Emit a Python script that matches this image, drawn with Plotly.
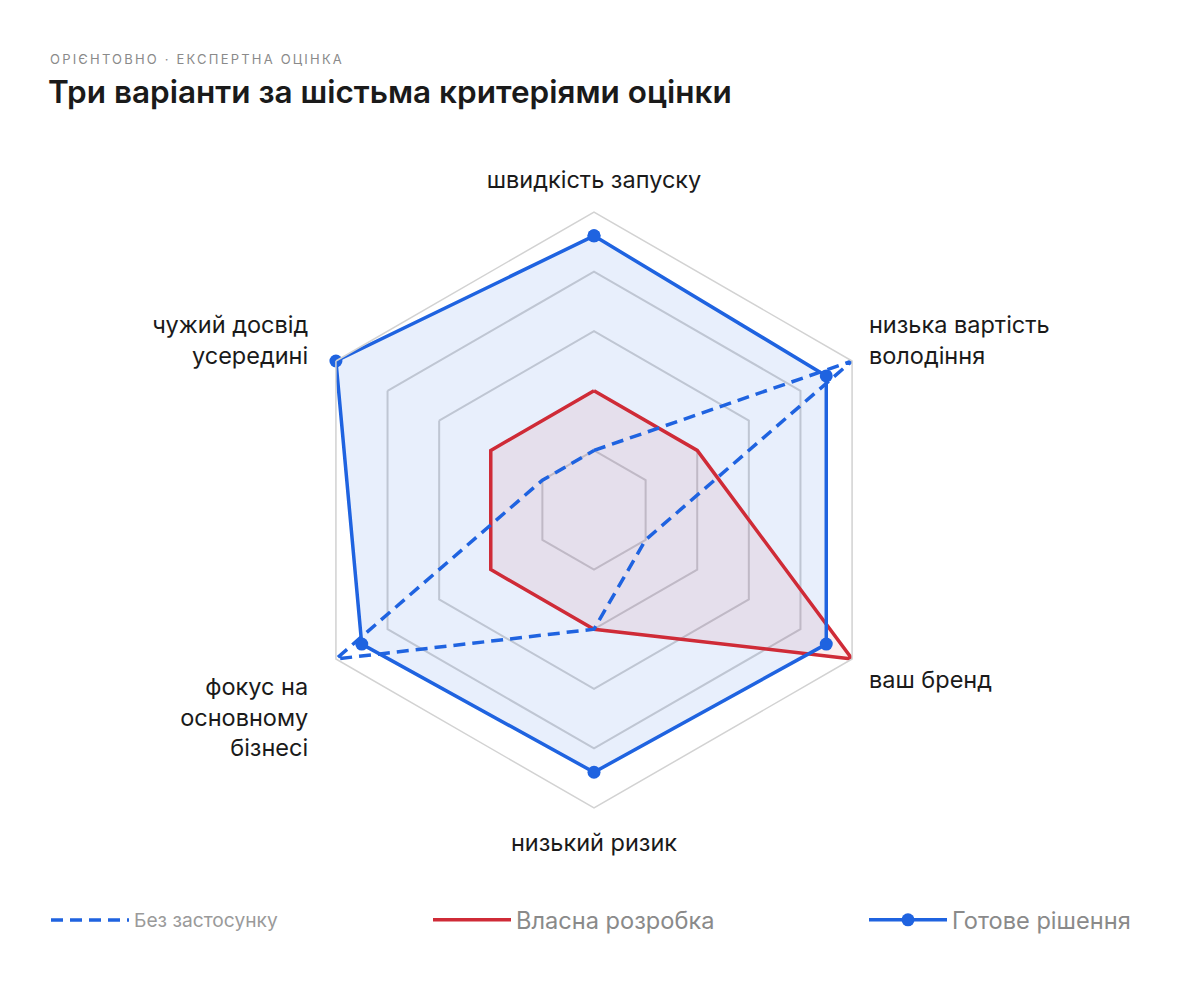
import plotly.graph_objects as go

categories = ["швидкість запуску", "низька вартість володіння", "ваш бренд",
              "низький ризик", "фокус на основному бізнесі", "чужий досвід усередині"]
NB = "\u00a0\u2009"
tick_labels = ["швидкість запуску", "низька вартість<br>володіння", "ваш бренд",
               "низький ризик",
               "<br>фокус на" + NB + "<br>основному" + NB + "<br>бізнесі" + NB,
               "чужий досвід" + NB + "<br>усередині" + NB]
series_names = ["Без застосунку", "Власна розробка", "Готове рішення"]
no_app = [1, 5, 1, 2, 5, 1]
own_dev = [2, 2, 5, 2, 2, 2]
ready = [4.6, 4.5, 4.5, 4.4, 4.5, 5.0]
grid_levels = [1, 2, 3, 4, 5]

FONT = "Inter"
BLUE = "#1f63e0"
RED = "#cf2b37"
GRID = "#d2d2d2"


def closed(vals):
    return list(vals) + [vals[0]]


theta = closed(categories)

fig = go.Figure()
# area fills (kept out of the legend)
fig.add_trace(go.Scatterpolar(
    r=closed(ready), theta=theta, mode="lines", line=dict(width=0, color=BLUE),
    fill="toself", fillcolor="rgba(31,99,224,0.10)", showlegend=False, hoverinfo="skip"))
fig.add_trace(go.Scatterpolar(
    r=closed(own_dev), theta=theta, mode="lines", line=dict(width=0, color=RED),
    fill="toself", fillcolor="rgba(207,43,55,0.08)", showlegend=False, hoverinfo="skip"))
# outlines
fig.add_trace(go.Scatterpolar(
    r=closed(own_dev), theta=theta, name=series_names[1], mode="lines",
    line=dict(color=RED, width=3.5), legend="legend2"))
fig.add_trace(go.Scatterpolar(
    r=closed(ready), theta=theta, name=series_names[2], mode="lines+markers",
    line=dict(color=BLUE, width=3.5), marker=dict(size=13, color=BLUE),
    legend="legend3"))
fig.add_trace(go.Scatterpolar(
    r=closed(no_app), theta=theta, name=series_names[0], mode="lines",
    line=dict(color=BLUE, width=3.5, dash="12px,7px"), legend="legend"))

W, H = 1180, 984
OFF = 8  # page body margin in the browser
cx, cy, R = 594 - OFF, 510 - OFF, 298


def px(x):
    return x / W


def py(y):
    return 1 - y / H


LEG_W = 78
legend_common = dict(y=py(920 - OFF), xanchor="left", yanchor="middle",
                     itemwidth=LEG_W, bgcolor="rgba(0,0,0,0)")

fig.update_layout(
    width=W, height=H,
    margin=dict(l=0, r=0, t=0, b=0),
    paper_bgcolor="white", plot_bgcolor="white",
    font=dict(family=FONT, color="#1a1a1a"),
    title=dict(text="Три варіанти за шістьма критеріями оцінки",
               font=dict(family=FONT, size=31.5, color="#1a1a1a", weight=600),
               x=px(48 - OFF), xanchor="left", y=py(92 - OFF), yanchor="middle"),
    annotations=[dict(
        text='<span style="letter-spacing:2.2px">ОРІЄНТОВНО · ЕКСПЕРТНА ОЦІНКА</span>',
        xref="paper", yref="paper", x=px(48 - OFF), y=py(59 - OFF),
        xanchor="left", yanchor="middle", showarrow=False,
        font=dict(family=FONT, size=13, color="#8a8a8a"))],
    polar=dict(
        domain=dict(x=[px(cx - R), px(cx + R)],
                    y=[py(cy + R), py(cy - R)]),
        bgcolor="rgba(0,0,0,0)",
        gridshape="linear",
        radialaxis=dict(range=[0, 5], tickvals=grid_levels, showticklabels=False,
                        showline=False, ticks="", gridcolor=GRID, gridwidth=1.5),
        angularaxis=dict(rotation=90, direction="clockwise",
                         categoryorder="array", categoryarray=categories,
                         tickvals=categories, ticktext=tick_labels,
                         showgrid=False, showline=True, linecolor=GRID, linewidth=1.5,
                         ticks="outside", ticklen=14, tickcolor="rgba(0,0,0,0)",
                         tickfont=dict(family=FONT, size=23.5, color="#1a1a1a")),
    ),
    showlegend=True,
    legend=dict(x=px(135 - LEG_W - 11 - OFF),
                font=dict(family=FONT, size=19.2, color="#9a9a9a"), **legend_common),
    legend2=dict(x=px(517 - LEG_W - 11 - OFF),
                 font=dict(family=FONT, size=23.6, color="#8a8a8a"), **legend_common),
    legend3=dict(x=px(953 - LEG_W - 11 - OFF),
                 font=dict(family=FONT, size=23.6, color="#8a8a8a"), **legend_common),
)

fig.write_html("out.html")
